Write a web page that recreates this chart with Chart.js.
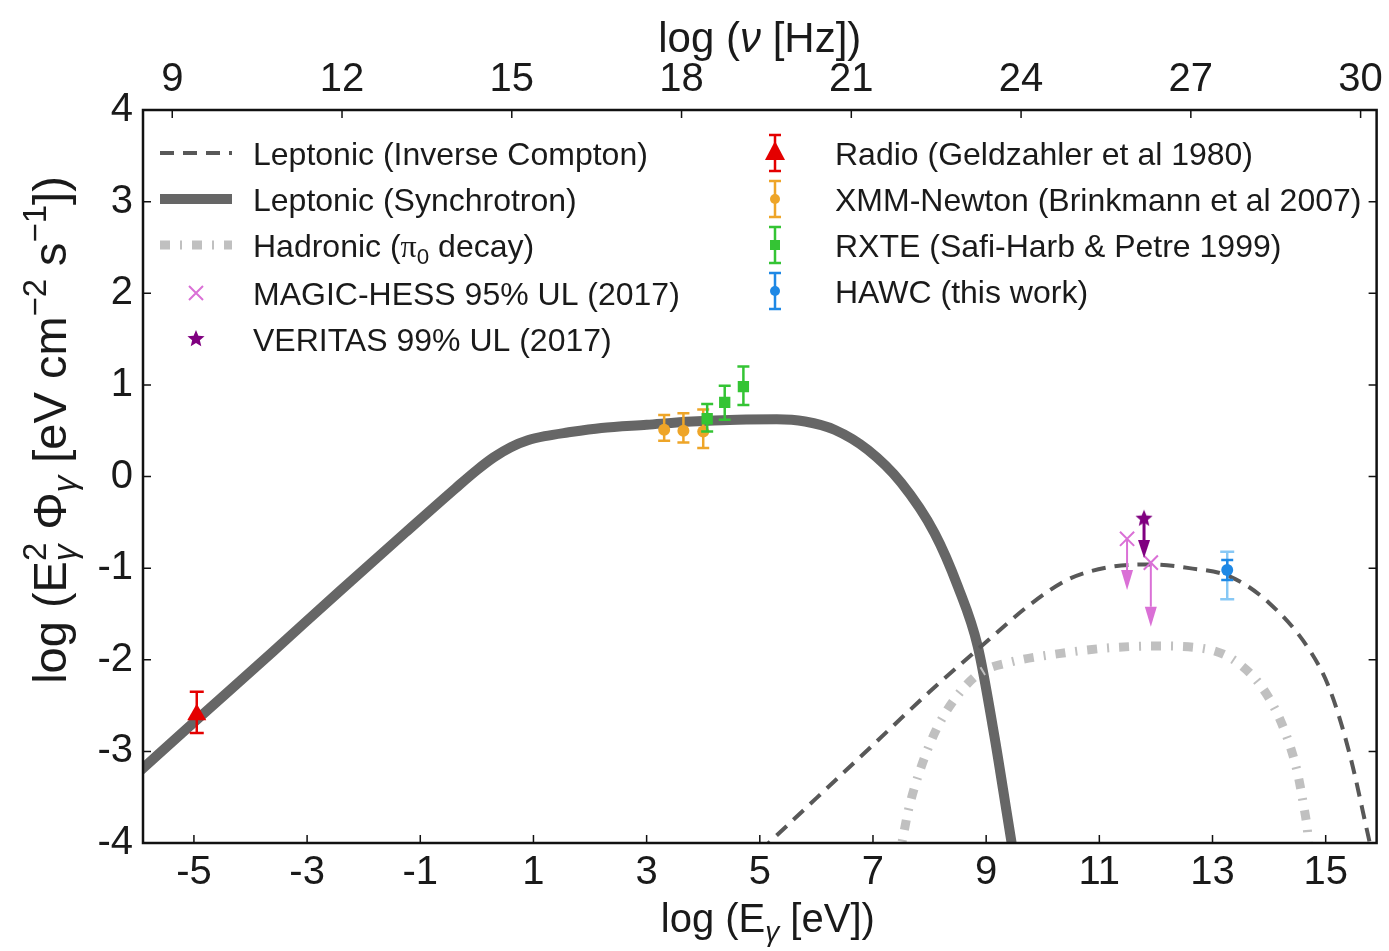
<!DOCTYPE html>
<html>
<head>
<meta charset="utf-8">
<script src="https://cdn.jsdelivr.net/npm/chart.js@4.4.0/dist/chart.umd.min.js"></script>
<style>
    html, body { margin: 0; padding: 0; background: #fff; }
</style>
</head>
<body>
<canvas id="sedChart" width="1389" height="951"></canvas>
<script>
// x axis is log10(E / eV); the top axis is log10(nu / Hz) = logE + NU_OFFSET
const NU_OFFSET = 14.383;
const X_MIN = -5.9, X_MAX = 15.9;
const xTicks = [-5, -3, -1, 1, 3, 5, 7, 9, 11, 13, 15];
const nuTicks = [9, 12, 15, 18, 21, 24, 27, 30];
const yTicks = [-4, -3, -2, -1, 0, 1, 2, 3, 4];

// model curves
const synchX = [-6.0, -4.94, -3.62, -2.44, -1.26, -0.38, 0.0, 0.3, 0.6, 0.9, 1.2, 1.6, 2.2, 3.0, 3.8, 4.6, 5.3, 5.8, 6.32, 6.91, 7.5, 8.09, 8.5, 8.85, 9.15, 9.3, 9.45, 9.55];
const synchY = [-3.24, -2.65, -1.92, -1.26, -0.61, -0.13, 0.07, 0.21, 0.32, 0.395, 0.44, 0.48, 0.53, 0.565, 0.6, 0.62, 0.625, 0.6, 0.51, 0.29, -0.07, -0.62, -1.2, -1.85, -2.85, -3.42, -4.0, -4.35];

const icX = [5.0, 6.0, 7.0, 8.0, 9.05, 9.75, 10.46, 11.17, 11.88, 12.59, 13.3, 14.0, 14.71, 15.07, 15.42, 15.74, 15.85];
const icY = [-4.09, -3.51, -2.93, -2.35, -1.78, -1.41, -1.12, -0.99, -0.96, -1.0, -1.09, -1.38, -1.89, -2.32, -3.02, -3.89, -4.2];

const hadX = [7.45, 7.52, 7.63, 7.84, 8.12, 8.48, 8.9, 9.4, 10.32, 11.17, 12.02, 12.87, 13.44, 13.94, 14.29, 14.5, 14.61, 14.68, 14.72];
const hadY = [-4.2, -3.97, -3.63, -3.19, -2.76, -2.40, -2.14, -2.03, -1.93, -1.87, -1.85, -1.88, -2.03, -2.36, -2.80, -3.23, -3.59, -3.88, -4.2];

// measurements
const radioX = [-4.95], radioY = [-2.60], radioLo = [-2.80], radioHi = [-2.35];
const xmmX = [3.31, 3.65, 4.00], xmmY = [0.51, 0.50, 0.49];
const xmmLo = [0.39, 0.37, 0.31], xmmHi = [0.67, 0.69, 0.73];
const rxteX = [4.07, 4.38, 4.71], rxteY = [0.63, 0.81, 0.98];
const rxteLo = [0.49, 0.62, 0.78], rxteHi = [0.79, 0.99, 1.20];
const magicX = [11.49, 11.91], magicY = [-0.68, -0.94], magicTo = [-1.24, -1.64];
const veritasX = [11.79], veritasY = [-0.46], veritasTo = [-0.89];
const hawcX = [13.26], hawcY = [-1.02];
const hawcStatLo = [-1.13], hawcStatHi = [-0.91];
const hawcSysLo = [-1.34], hawcSysHi = [-0.82];

const FONT = "'Liberation Sans', Arial, sans-serif";
const TEXT = '#1a1a1a';
const C = {
    synch: 'rgb(102,102,102)',
    ic: 'rgb(88,88,88)',
    had: 'rgb(192,192,192)',
    radio: 'rgb(228,0,0)',
    xmm: 'rgb(238,165,40)',
    rxte: 'rgb(52,196,52)',
    magic: 'rgb(218,112,214)',
    veritas: 'rgb(128,0,128)',
    hawc: 'rgb(30,136,229)',
    hawcSys: 'rgb(135,200,245)'
};
const DASH_IC = [14, 9];
const DASH_HAD = [10, 10, 2, 10];

const pts = (xs, ys) => xs.map((x, i) => ({ x: x, y: ys[i] }));

function starPath(ctx, cx, cy, r) {
    ctx.beginPath();
    for (let i = 0; i < 10; i++) {
        const rr = i % 2 === 0 ? r : r * 0.45;
        const a = -Math.PI / 2 + i * Math.PI / 5;
        ctx.lineTo(cx + rr * Math.cos(a), cy + rr * Math.sin(a));
    }
    ctx.closePath();
}

function starImage(r, color) {
    const c = document.createElement('canvas');
    c.width = c.height = Math.ceil(2 * r + 2);
    const g = c.getContext('2d');
    g.fillStyle = color;
    starPath(g, c.width / 2, c.height / 2, r);
    g.fill();
    return c;
}

function setFont(ctx, size, it, family) {
    ctx.font = (it ? 'italic ' : '') + size + 'px ' + (family || FONT);
}

// text with sub/superscripts, drawn on the canvas
function drawRich(ctx, parts, x, y, size, align, scale) {
    const small = size * (scale || 0.7);
    const widths = parts.map(p => {
        if (p.t !== undefined) {
            setFont(ctx, size, p.it, p.family);
            return ctx.measureText(p.t).width;
        }
        let w = 0;
        if (p.sup) { setFont(ctx, small, false); w = Math.max(w, ctx.measureText(p.sup).width); }
        if (p.sub) { setFont(ctx, small, p.subIt); w = Math.max(w, ctx.measureText(p.sub).width); }
        return w;
    });
    const total = widths.reduce((a, b) => a + b, 0);
    let cx = align === 'center' ? x - total / 2 : x;
    ctx.textAlign = 'left';
    ctx.textBaseline = 'alphabetic';
    parts.forEach((p, i) => {
        if (p.t !== undefined) {
            setFont(ctx, size, p.it, p.family);
            ctx.fillText(p.t, cx, y);
        } else {
            if (p.sup) { setFont(ctx, small, false); ctx.fillText(p.sup, cx, y - size * 0.42); }
            if (p.sub) { setFont(ctx, small, p.subIt); ctx.fillText(p.sub, cx, y + size * 0.22); }
        }
        cx += widths[i];
    });
}

function errorBar(ctx, px, lo, hi, cap) {
    ctx.beginPath();
    ctx.moveTo(px, lo); ctx.lineTo(px, hi);
    ctx.moveTo(px - cap, lo); ctx.lineTo(px + cap, lo);
    ctx.moveTo(px - cap, hi); ctx.lineTo(px + cap, hi);
    ctx.stroke();
}

function arrowDown(ctx, px, from, to, color, lw, headW, headL) {
    ctx.strokeStyle = color;
    ctx.fillStyle = color;
    ctx.lineWidth = lw;
    ctx.beginPath();
    ctx.moveTo(px, from); ctx.lineTo(px, to - headL);
    ctx.stroke();
    ctx.beginPath();
    ctx.moveTo(px - headW, to - headL);
    ctx.lineTo(px + headW, to - headL);
    ctx.lineTo(px, to);
    ctx.closePath();
    ctx.fill();
}

// error bars and upper-limit arrows, drawn under each dataset's markers
const errorBarPlugin = {
    id: 'errorBars',
    beforeDatasetDraw(chart, args) {
        const ds = chart.data.datasets[args.index];
        if (!ds.bars && !ds.limits) return;
        const { ctx, chartArea, scales: { x, y } } = chart;
        ctx.save();
        ctx.beginPath();
        ctx.rect(chartArea.left, chartArea.top, chartArea.width, chartArea.height);
        ctx.clip();
        (ds.bars || []).forEach(b => {
            ctx.strokeStyle = b.color;
            ctx.lineWidth = b.width;
            ds.data.forEach((p, i) => {
                errorBar(ctx, x.getPixelForValue(p.x), y.getPixelForValue(b.lo[i]), y.getPixelForValue(b.hi[i]), b.cap);
            });
        });
        if (ds.limits) {
            const l = ds.limits;
            ds.data.forEach((p, i) => {
                arrowDown(ctx, x.getPixelForValue(p.x), y.getPixelForValue(p.y), y.getPixelForValue(l.to[i]),
                    l.color, l.width, l.headW, l.headL);
            });
        }
        ctx.restore();
    }
};

// matplotlib-like frame with inward ticks, axis titles
const framePlugin = {
    id: 'frame',
    afterDatasetsDraw(chart) {
        const { ctx, chartArea: a, scales } = chart;
        ctx.save();
        ctx.strokeStyle = '#111';
        ctx.lineWidth = 1.5;
        const tl = 8;
        ctx.beginPath();
        xTicks.forEach(v => {
            const px = scales.x.getPixelForValue(v);
            ctx.moveTo(px, a.bottom); ctx.lineTo(px, a.bottom - tl);
        });
        nuTicks.forEach(v => {
            const px = scales.x2.getPixelForValue(v);
            ctx.moveTo(px, a.top); ctx.lineTo(px, a.top + tl);
        });
        yTicks.forEach(v => {
            const py = scales.y.getPixelForValue(v);
            ctx.moveTo(a.left, py); ctx.lineTo(a.left + tl, py);
            ctx.moveTo(a.right, py); ctx.lineTo(a.right - tl, py);
        });
        ctx.stroke();
        ctx.lineWidth = 2.5;
        ctx.strokeRect(a.left, a.top, a.width, a.height);

        ctx.fillStyle = TEXT;
        const mid = (a.left + a.right) / 2;
        drawRich(ctx, [{ t: 'log (E' }, { sub: 'γ', subIt: true }, { t: ' [eV])' }], mid + 8, 932, 40, 'center');
        drawRich(ctx, [{ t: 'log (' }, { t: 'ν', it: true }, { t: ' [Hz])' }], mid, 52, 42, 'center');
        ctx.translate(66, 430);
        ctx.rotate(-Math.PI / 2);
        drawRich(ctx, [
            { t: 'log (E' }, { sup: '2', sub: 'γ', subIt: true }, { t: ' Φ' }, { sub: 'γ', subIt: true },
            { t: ' [eV cm' }, { sup: '−2' }, { t: ' s' }, { sup: '−1' }, { t: '])' }
        ], 0, 0, 47, 'center', 0.7);
        ctx.restore();
    }
};

const legendPlugin = {
    id: 'sedLegend',
    afterDraw(chart) {
        const ctx = chart.ctx;
        const size = 32;
        ctx.save();
        ctx.fillStyle = TEXT;
        const label = (txt, x, y) => drawRich(ctx, typeof txt === 'string' ? [{ t: txt }] : txt, x, y + size * 0.36, size, 'left');

        // model lines
        const line = (y, color, w, dash) => {
            ctx.save();
            ctx.strokeStyle = color;
            ctx.lineWidth = w;
            ctx.setLineDash(dash);
            ctx.beginPath();
            ctx.moveTo(160, y); ctx.lineTo(232, y);
            ctx.stroke();
            ctx.restore();
        };
        const lx = 253, rows = [153, 199, 245, 293, 339];
        line(rows[0], C.ic, 4, DASH_IC);
        label('Leptonic (Inverse Compton)', lx, rows[0]);
        line(rows[1], C.synch, 10, []);
        label('Leptonic (Synchrotron)', lx, rows[1]);
        line(rows[2], C.had, 9, DASH_HAD);
        ctx.fillStyle = TEXT;
        label([{ t: 'Hadronic (' }, { t: 'π', family: "'Liberation Serif', serif" }, { sub: '0' }, { t: ' decay)' }], lx, rows[2]);

        ctx.strokeStyle = C.magic;
        ctx.lineWidth = 2;
        ctx.beginPath();
        ctx.moveTo(189, rows[3] - 7); ctx.lineTo(203, rows[3] + 7);
        ctx.moveTo(203, rows[3] - 7); ctx.lineTo(189, rows[3] + 7);
        ctx.stroke();
        label('MAGIC-HESS 95% UL (2017)', lx, rows[3]);

        ctx.fillStyle = C.veritas;
        starPath(ctx, 196, rows[4], 9);
        ctx.fill();
        ctx.fillStyle = TEXT;
        label('VERITAS 99% UL (2017)', lx, rows[4]);

        // data points
        const hx = 775, rx = 835, rrows = [153, 199, 245, 291];
        const bar = (y, color) => {
            ctx.strokeStyle = color;
            ctx.lineWidth = 2.5;
            errorBar(ctx, hx, y - 18, y + 18, 6);
        };
        bar(rrows[0], C.radio);
        ctx.fillStyle = C.radio;
        ctx.beginPath();
        ctx.moveTo(hx, rrows[0] - 12); ctx.lineTo(hx + 10, rrows[0] + 7); ctx.lineTo(hx - 10, rrows[0] + 7);
        ctx.closePath(); ctx.fill();
        ctx.fillStyle = TEXT;
        label('Radio (Geldzahler et al 1980)', rx, rrows[0]);

        bar(rrows[1], C.xmm);
        ctx.fillStyle = C.xmm;
        ctx.beginPath(); ctx.arc(hx, rrows[1], 5, 0, Math.PI * 2); ctx.fill();
        ctx.fillStyle = TEXT;
        label('XMM-Newton (Brinkmann et al 2007)', rx, rrows[1]);

        bar(rrows[2], C.rxte);
        ctx.fillStyle = C.rxte;
        ctx.fillRect(hx - 5, rrows[2] - 5, 10, 10);
        ctx.fillStyle = TEXT;
        label('RXTE (Safi-Harb & Petre 1999)', rx, rrows[2]);

        bar(rrows[3], C.hawc);
        ctx.fillStyle = C.hawc;
        ctx.beginPath(); ctx.arc(hx, rrows[3], 5, 0, Math.PI * 2); ctx.fill();
        ctx.fillStyle = TEXT;
        label('HAWC (this work)', rx, rrows[3]);
        ctx.restore();
    }
};

const tickFont = { family: FONT, size: 40 };

new Chart(document.getElementById('sedChart'), {
    type: 'scatter',
    data: {
        datasets: [
            {
                label: 'Radio (Geldzahler et al 1980)',
                data: pts(radioX, radioY),
                pointStyle: 'triangle', pointRadius: 11, pointBorderWidth: 0,
                backgroundColor: C.radio, borderColor: C.radio,
                bars: [{ lo: radioLo, hi: radioHi, color: C.radio, width: 2.5, cap: 7 }]
            },
            {
                label: 'HAWC (this work)',
                data: pts(hawcX, hawcY),
                pointStyle: 'circle', pointRadius: 6, pointBorderWidth: 0,
                backgroundColor: C.hawc, borderColor: C.hawc,
                bars: [
                    { lo: hawcSysLo, hi: hawcSysHi, color: C.hawcSys, width: 2.5, cap: 7 },
                    { lo: hawcStatLo, hi: hawcStatHi, color: C.hawc, width: 2.5, cap: 6 }
                ]
            },
            {
                label: 'VERITAS 99% UL (2017)',
                data: pts(veritasX, veritasY),
                pointStyle: starImage(9, C.veritas), pointRadius: 9,
                backgroundColor: C.veritas, borderColor: C.veritas,
                limits: { to: veritasTo, color: C.veritas, width: 3, headW: 6, headL: 18 }
            },
            {
                label: 'MAGIC-HESS 95% UL (2017)',
                data: pts(magicX, magicY),
                pointStyle: 'crossRot', pointRadius: 10, pointBorderWidth: 2,
                backgroundColor: C.magic, borderColor: C.magic,
                limits: { to: magicTo, color: C.magic, width: 2, headW: 6, headL: 20 }
            },
            {
                label: 'RXTE (Safi-Harb & Petre 1999)',
                data: pts(rxteX, rxteY),
                pointStyle: 'rect', pointRadius: 8, pointBorderWidth: 0,
                backgroundColor: C.rxte, borderColor: C.rxte,
                bars: [{ lo: rxteLo, hi: rxteHi, color: C.rxte, width: 2.5, cap: 6 }]
            },
            {
                label: 'XMM-Newton (Brinkmann et al 2007)',
                data: pts(xmmX, xmmY),
                pointStyle: 'circle', pointRadius: 6, pointBorderWidth: 0,
                backgroundColor: C.xmm, borderColor: C.xmm,
                bars: [{ lo: xmmLo, hi: xmmHi, color: C.xmm, width: 2.5, cap: 6 }]
            },
            {
                label: 'Leptonic (Inverse Compton)',
                data: pts(icX, icY),
                showLine: true, pointRadius: 0, borderWidth: 4, borderDash: DASH_IC,
                borderColor: C.ic, cubicInterpolationMode: 'monotone', clip: 0
            },
            {
                label: 'Hadronic (pi0 decay)',
                data: pts(hadX, hadY),
                showLine: true, pointRadius: 0, borderWidth: 9, borderDash: DASH_HAD,
                borderColor: C.had, cubicInterpolationMode: 'monotone', clip: 0
            },
            {
                label: 'Leptonic (Synchrotron)',
                data: pts(synchX, synchY),
                showLine: true, pointRadius: 0, borderWidth: 10,
                borderColor: C.synch, cubicInterpolationMode: 'monotone', clip: 0
            }
        ]
    },
    options: {
        responsive: false,
        devicePixelRatio: 1,
        animation: false,
        layout: { padding: { left: 0, right: 9, top: 0, bottom: 0 } },
        plugins: {
            legend: { display: false },
            tooltip: { enabled: false }
        },
        scales: {
            x: {
                type: 'linear', position: 'bottom', min: X_MIN, max: X_MAX,
                afterBuildTicks: s => { s.ticks = xTicks.map(v => ({ value: v })); },
                afterFit: s => { s.height = 108; },
                grid: { display: false, drawTicks: false },
                border: { display: false },
                ticks: { font: tickFont, color: TEXT, padding: 6, maxRotation: 0, autoSkip: false, callback: v => String(v) }
            },
            x2: {
                type: 'linear', axis: 'x', position: 'top', min: X_MIN + NU_OFFSET, max: X_MAX + NU_OFFSET,
                afterBuildTicks: s => { s.ticks = nuTicks.map(v => ({ value: v })); },
                afterFit: s => { s.height = 110; },
                grid: { display: false, drawTicks: false },
                border: { display: false },
                ticks: { font: tickFont, color: TEXT, padding: 6, maxRotation: 0, autoSkip: false, callback: v => String(v) }
            },
            y: {
                type: 'linear', min: -4, max: 4,
                afterBuildTicks: s => { s.ticks = yTicks.map(v => ({ value: v })); },
                afterFit: s => { s.width = 143; },
                grid: { display: false, drawTicks: false },
                border: { display: false },
                ticks: { font: tickFont, color: TEXT, padding: 10, autoSkip: false, callback: v => String(v) }
            }
        }
    },
    plugins: [errorBarPlugin, framePlugin, legendPlugin]
});
</script>
</body>
</html>
